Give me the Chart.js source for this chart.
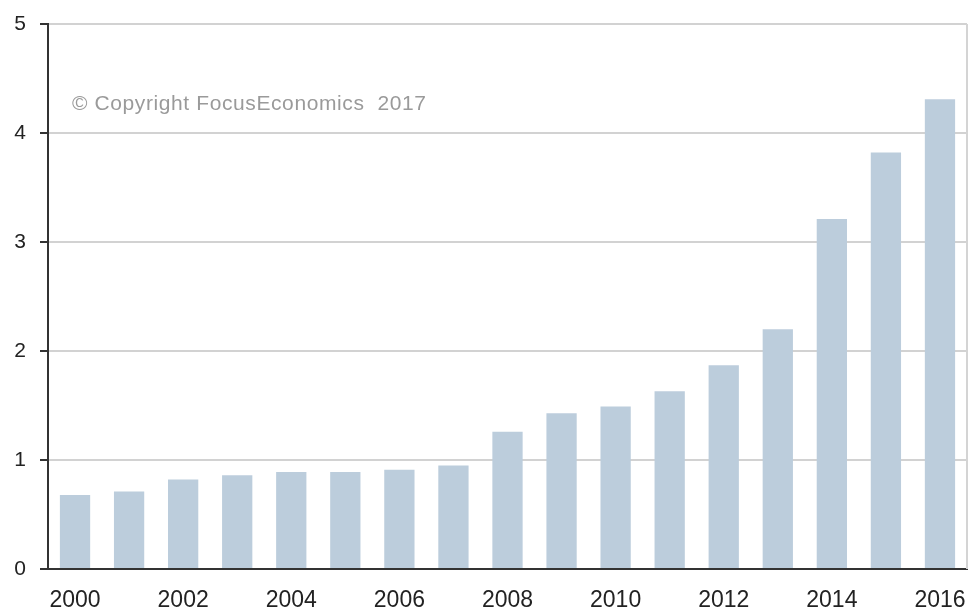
<!DOCTYPE html>
<html>
<head>
<meta charset="utf-8">
<script src="https://cdn.jsdelivr.net/npm/chart.js@4"></script>
<style>
  html, body { margin: 0; padding: 0; background: #fff; }
  #wrap { width: 971px; height: 609px; }
</style>
</head>
<body>
<div id="wrap"><canvas id="chart" width="971" height="609"></canvas></div>
<script>
const years = ["2000", "2001", "2002", "2003", "2004", "2005", "2006", "2007", "2008",
  "2009", "2010", "2011", "2012", "2013", "2014", "2015", "2016"];
const values = [0.68, 0.71, 0.82, 0.86, 0.89, 0.89, 0.91, 0.95, 1.26,
  1.43, 1.49, 1.63, 1.87, 2.2, 3.21, 3.82, 4.31];
const yTicks = [0, 1, 2, 3, 4, 5];
const copyrightText = "© Copyright FocusEconomics  2017";

const FONT = "'Liberation Sans', Arial, sans-serif";

// right border of the plot + watermark text
const plotDecor = {
  id: "plotDecor",
  beforeDatasetsDraw(chart) {
    const { ctx, chartArea: { top, right, bottom, left } } = chart;
    ctx.save();
    ctx.strokeStyle = "#d4d4d4";
    ctx.lineWidth = 2;
    ctx.beginPath();
    ctx.moveTo(right, top);
    ctx.lineTo(right, bottom);
    ctx.stroke();
    ctx.fillStyle = "#9a9a9a";
    ctx.font = "21px " + FONT;
    ctx.letterSpacing = "0.6px";
    ctx.textBaseline = "middle";
    ctx.fillText(copyrightText, left + 24, top + 80);
    ctx.restore();
  },
};

new Chart(document.getElementById("chart"), {
  type: "bar",
  data: {
    labels: years,
    datasets: [
      {
        data: values,
        backgroundColor: "#bccddc",
        barPercentage: 0.56,
        categoryPercentage: 1,
      },
    ],
  },
  options: {
    responsive: false,
    animation: false,
    layout: { padding: { top: 24, right: 4, left: 0, bottom: 0 } },
    scales: {
      x: {
        grid: { display: false },
        border: { color: "#333", width: 2 },
        afterFit: (scale) => {
          scale.height = 40;
          scale.paddingLeft = 0;
          scale.paddingRight = 0;
        },
        ticks: {
          autoSkip: false,
          maxRotation: 0,
          padding: 10,
          color: "#222",
          font: { size: 23, family: FONT },
          callback: function (value, index) {
            return index % 2 === 0 ? years[index] : "";
          },
        },
      },
      y: {
        min: yTicks[0],
        max: yTicks[yTicks.length - 1],
        afterFit: (scale) => {
          scale.width = 48;
          scale.paddingTop = 0;
          scale.paddingBottom = 0;
        },
        afterBuildTicks: (scale) => {
          scale.ticks = yTicks.map((v) => ({ value: v }));
        },
        grid: {
          color: "#d2d2d2",
          lineWidth: 2,
          tickColor: "#333",
          tickLength: 8,
        },
        border: { color: "#333", width: 2 },
        ticks: {
          padding: 14,
          color: "#222",
          font: { size: 21, family: FONT },
        },
      },
    },
    plugins: {
      legend: { display: false },
      tooltip: { enabled: false },
    },
  },
  plugins: [plotDecor],
});
</script>
</body>
</html>
